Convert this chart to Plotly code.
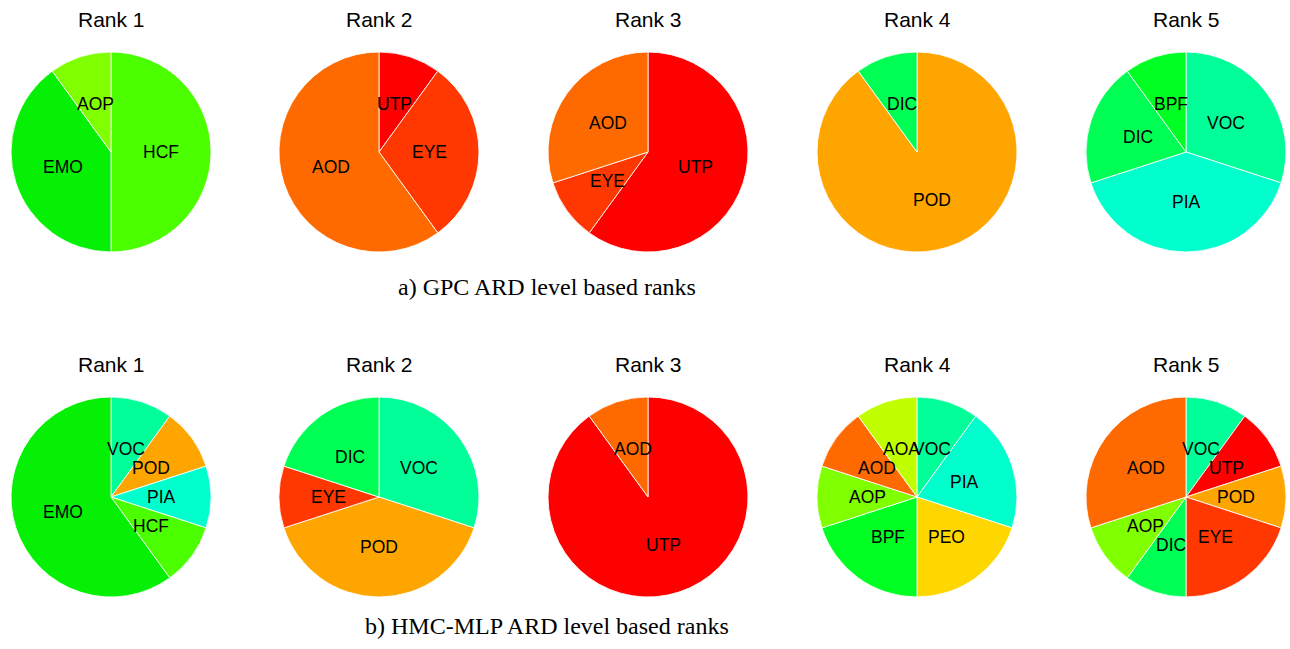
import math
import plotly.graph_objects as go

W, H = 1290, 649

# Category colours shared by every pie
colors = {
    "UTP": "#FF0000", "EYE": "#FF3700", "AOD": "#FF6A00", "POD": "#FFA500",
    "PEO": "#FFD700", "AOA": "#BFFF00", "AOP": "#80FF00", "HCF": "#4CFF00",
    "EMO": "#05F005", "BPF": "#00FF22", "DIC": "#00FF55", "VOC": "#00FF99",
    "PIA": "#00FFCC",
}

rank_titles = ["Rank 1", "Rank 2", "Rank 3", "Rank 4", "Rank 5"]

# a) GPC ARD level based ranks (counts per feature group)
gpc_labels = [
    ["AOP", "EMO", "HCF"],
    ["AOD", "EYE", "UTP"],
    ["AOD", "EYE", "UTP"],
    ["DIC", "POD"],
    ["BPF", "DIC", "PIA", "VOC"],
]
gpc_values = [
    [1, 4, 5],
    [6, 3, 1],
    [3, 1, 6],
    [1, 9],
    [1, 2, 4, 3],
]

# b) HMC-MLP ARD level based ranks
hmc_labels = [
    ["EMO", "HCF", "PIA", "POD", "VOC"],
    ["DIC", "EYE", "POD", "VOC"],
    ["AOD", "UTP"],
    ["AOA", "AOD", "AOP", "BPF", "PEO", "PIA", "VOC"],
    ["AOD", "AOP", "DIC", "EYE", "POD", "UTP", "VOC"],
]
hmc_values = [
    [6, 1, 1, 1, 1],
    [2, 1, 4, 3],
    [1, 9],
    [1, 1, 1, 2, 2, 2, 1],
    [3, 1, 1, 2, 1, 1, 1],
]

captions = ["a) GPC ARD level based ranks", "b) HMC-MLP ARD level based ranks"]

# layout geometry in pixels
centers_x = [111, 379, 648, 917, 1186]
rows = [
    {"cy": 152, "title_y": 20, "caption_y": 287, "labels": gpc_labels, "values": gpc_values},
    {"cy": 497, "title_y": 364, "caption_y": 626, "labels": hmc_labels, "values": hmc_values},
]
R = 100
caption_x = 547

fig = go.Figure()
annotations = []

for r, row in enumerate(rows):
    cy = row["cy"]
    for i, cx in enumerate(centers_x):
        # slices run counterclockwise from 12 o'clock in alphabetical order,
        # i.e. clockwise in reverse order
        labels = list(reversed(row["labels"][i]))
        values = list(reversed(row["values"][i]))
        fig.add_trace(go.Pie(
            labels=labels,
            values=values,
            sort=False,
            direction="clockwise",
            rotation=0,
            marker=dict(colors=[colors[l] for l in labels],
                        line=dict(color="rgba(255,255,255,0.85)", width=1)),
            textinfo="none",
            hoverinfo="label+value",
            showlegend=False,
            domain=dict(x=[(cx - R) / W, (cx + R) / W],
                        y=[1 - (cy + R) / H, 1 - (cy - R) / H]),
        ))
        # slice labels at half radius, mid-angle of each slice
        total = float(sum(values))
        cum = 0.0
        for lab, v in zip(labels, values):
            a = math.radians((cum + v / 2.0) / total * 360.0)
            cum += v
            px = cx + 0.5 * R * math.sin(a)
            py = cy - 0.5 * R * math.cos(a)
            annotations.append(dict(
                x=px / W, y=1 - py / H, xref="paper", yref="paper",
                text=lab, showarrow=False, xanchor="center", yanchor="middle",
                font=dict(family="Liberation Sans, Arial, sans-serif", size=17.5, color="#000"),
            ))
        annotations.append(dict(
            x=cx / W, y=1 - row["title_y"] / H, xref="paper", yref="paper",
            text=rank_titles[i], showarrow=False, xanchor="center", yanchor="middle",
            font=dict(family="Liberation Sans, Arial, sans-serif", size=21, color="#000"),
        ))
    annotations.append(dict(
        x=caption_x / W, y=1 - row["caption_y"] / H, xref="paper", yref="paper",
        text=captions[r], showarrow=False, xanchor="center", yanchor="middle",
        font=dict(family="Liberation Serif, DejaVu Serif, serif", size=24, color="#000"),
    ))

fig.update_layout(
    width=W, height=H,
    margin=dict(l=0, r=0, t=0, b=0),
    paper_bgcolor="white",
    plot_bgcolor="white",
    annotations=annotations,
)

fig.write_html("out.html")
